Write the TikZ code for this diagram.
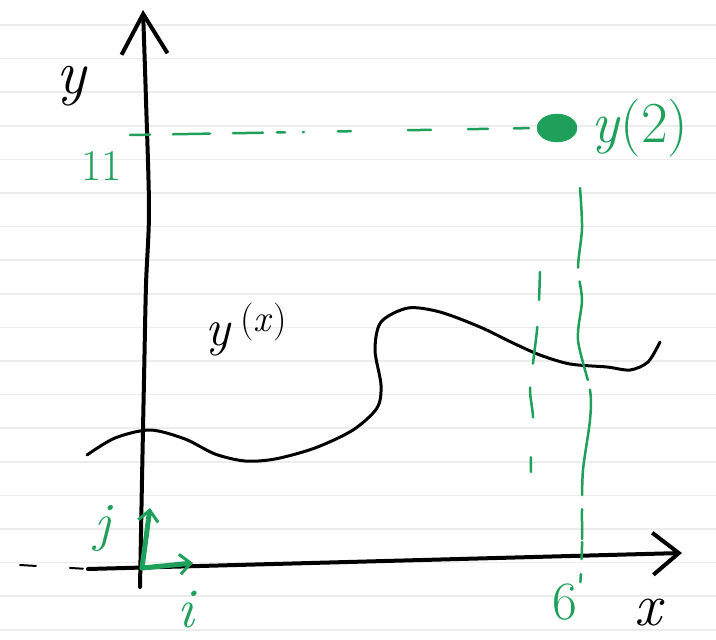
\documentclass[tikz,border=0pt]{standalone}
\usepackage{fontspec}
\usepackage{tikz}
\usetikzlibrary{arrows.meta, shapes.geometric}
\definecolor{pengreen}{RGB}{30,160,90}
\definecolor{paperline}{RGB}{236,236,236}

\begin{document}
\begin{tikzpicture}[x=1pt, y=-1pt,
  pen/.style={line width=3pt, line cap=round, line join=round},
  axis/.style={pen, line width=4pt},
  guide/.style={pengreen, line width=2.5pt, line cap=round},
  basis/.style={pengreen, line width=5pt, line cap=round,
    -{Straight Barb[length=11pt, width=20pt, line width=3pt]}},
  hand/.style={inner sep=0pt, font=\fontsize{#1}{#1}\selectfont}]
  \useasboundingbox (0,0) rectangle (716,640);

  % ruled paper
  \foreach \k in {0,...,18}
    \draw[paperline, line width=1.5pt] (0,25+33.6*\k) -- (716,25+33.6*\k);

  % axes
  \coordinate (O) at (142,568);
  \coordinate (ytop) at (143,10);
  \coordinate (ybot) at (140,587);
  \coordinate (xleft) at (88,569);
  \coordinate (xtip) at (682,553);
  \draw[axis, -{Straight Barb[length=40pt, width=46pt, line width=4pt]}]
    plot[smooth] coordinates {(ybot) (142,480) (144,380) (146,285) (149,210) (146,100) (ytop)};
  \draw[axis, -{Straight Barb[length=26pt, width=42pt, line width=4pt]}] (xleft) -- (xtip);
  \draw[pen, line width=2pt, dash pattern=on 16pt off 34pt on 13pt off 20pt] (20,565) -- (xleft);
  \node[hand=62] (ylab) at (72,86) {\textit{y}};
  \node[hand=60] (xlab) at (650,613) {\textit{x}};

  % the function
  \draw[pen] plot[smooth] coordinates {
    (87,455) (115,438) (150,430) (185,439) (215,454) (245,461)
    (275,459) (315,448) (353,430) (377,408) (381,385) (375,350) (381,322)
    (408,308) (440,312) (480,327) (513,343) (540,355) (570,364)
    (607,367) (630,370) (648,362) (660,342)};
  \node[hand=52] (curvelab) at (246,330) {\textit{y}\,\raisebox{14pt}{\fontsize{38}{38}\selectfont(\textit{x})}};

  % value at x = 6
  \node[pengreen, draw, fill, ellipse, minimum width=40pt, minimum height=28pt,
    inner sep=0pt] (pt) at (557,128) {};
  \draw[guide, dash pattern=on 20pt off 23pt on 37pt off 23pt on 30pt off 14pt on 8pt
    off 18pt on 1pt off 34pt on 13pt off 57pt on 23pt off 37pt on 20pt off 26pt on 15pt]
    (130,135) -- (pt.west);
  \draw[guide, dash pattern=on 80pt off 14pt on 100pt off 10pt on 106pt off 14pt
    on 30pt off 3pt on 17pt off 15pt on 8pt]
    plot[smooth] coordinates {(580,188) (582,228) (578,268) (582,300) (578,340)
      (590,390) (590,420) (583,470) (582,510) (582,547) (580,590)};
  \draw[guide, dash pattern=on 28pt off 27pt on 37pt off 24pt on 30pt off 40pt on 15pt]
    plot[smooth] coordinates {(540,272) (539,300) (537,330) (533,363) (530,390)
      (533,417) (531,440) (531,472)};
  \node[hand=58, pengreen] (yval) at (640,128) {\textit{y}(2)};
  \node[hand=44, pengreen] (ytick) at (102,166) {11};
  \node[hand=54, pengreen] (xtick) at (565,602) {6};

  % basis vectors
  \coordinate (itip) at (193,563);
  \coordinate (jtip) at (150,508);
  \draw[basis] (O) -- (itip);
  \draw[basis] (O) -- (jtip);
  \node[hand=54, pengreen] (jlab) at (104,528) {\textit{j}};
  \node[hand=56, pengreen] (ilab) at (187,610) {\textit{i}};
\end{tikzpicture}
\end{document}
